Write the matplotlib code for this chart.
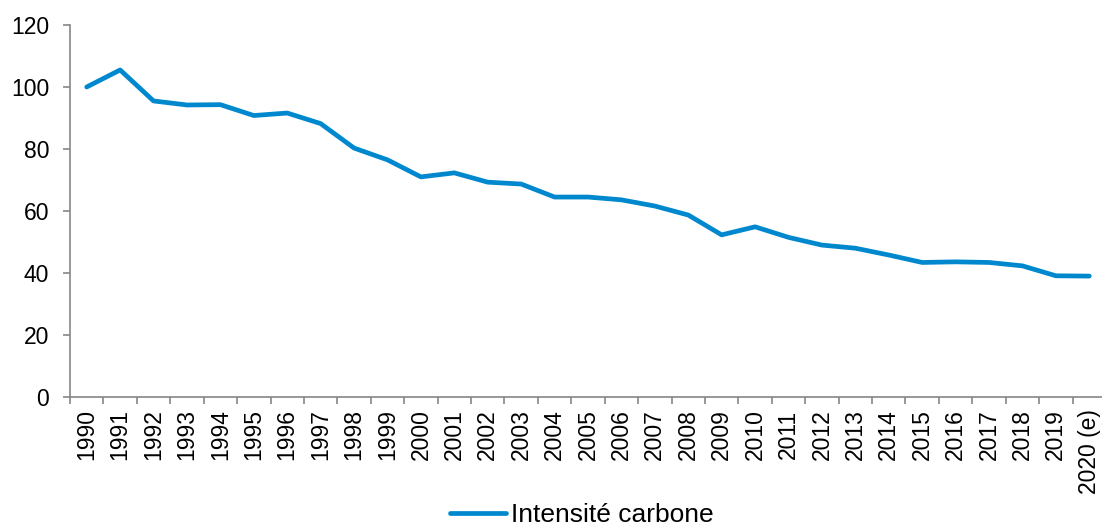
import numpy as np
import matplotlib
matplotlib.use("Agg")
import matplotlib.pyplot as plt

plt.rcParams['font.family'] = ['Liberation Sans', 'DejaVu Sans']

# Données (base 100 en 1990)
annees = [str(a) for a in range(1990, 2020)] + ["2020 (e)"]
intensite = [100, 105.5, 95.5, 94.2, 94.3, 90.8, 91.6, 88.2, 80.3, 76.5,
             71.0, 72.3, 69.3, 68.7, 64.5, 64.5, 63.6, 61.6, 58.7, 52.3,
             54.9, 51.5, 49.0, 48.0, 45.8, 43.4, 43.6, 43.4, 42.3, 39.1, 39.0]

BLEU = "#0088CE"
GRIS = "#868686"

fig = plt.figure(figsize=(11.02, 5.28), dpi=100)
ax = fig.add_axes([70 / 1102, 1 - 397 / 528, 1036 / 1102, 372 / 528])

x = np.arange(len(annees))
ax.plot(x, intensite, color=BLEU, linewidth=3.4, solid_capstyle='round',
        solid_joinstyle='round', label="Intensité carbone")

ax.set_xlim(-0.5, len(annees) - 0.5)
ax.set_ylim(0, 120)
ax.set_yticks(range(0, 121, 20))

# axe des catégories : graduations entre les années
ax.set_xticks(x)
ax.set_xticklabels(annees, rotation=90, fontsize=16.5)
ax.set_xticks(np.arange(-0.5, len(annees)), minor=True)
ax.tick_params(axis='x', which='major', length=0, pad=9)
ax.tick_params(axis='x', which='minor', length=5, color=GRIS, width=1.2)
ax.tick_params(axis='y', length=5, color=GRIS, width=1.2, labelsize=16.5, pad=10)

for side in ['top', 'right']:
    ax.spines[side].set_visible(False)
for side in ['left', 'bottom']:
    ax.spines[side].set_color(GRIS)
    ax.spines[side].set_linewidth(1.2)

leg = fig.legend(loc='center', bbox_to_anchor=(0.528, 0.024), frameon=False,
                 fontsize=19, handlelength=2.1, handletextpad=0.2)

fig.savefig("out.png", dpi=100)
